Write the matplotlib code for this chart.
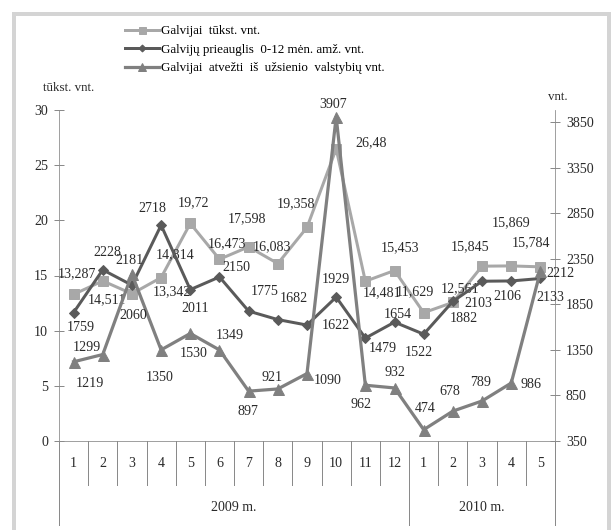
import matplotlib
matplotlib.use("Agg")
import matplotlib.pyplot as plt
import matplotlib.patches as patches
import matplotlib.transforms as mtransforms

plt.rcParams['font.family'] = ['Liberation Serif', 'DejaVu Serif']

# data
months = ['1', '2', '3', '4', '5', '6', '7', '8', '9', '10', '11', '12',
          '1', '2', '3', '4', '5']
years = ['2009 m.', '2010 m.']
galvijai = [13.287, 14.511, 13.342, 14.814, 19.72, 16.473, 17.598, 16.083, 19.358,
            26.48, 14.481, 15.453, 11.629, 12.561, 15.845, 15.869, 15.784]
prieauglis = [1759, 2228, 2060, 2718, 2011, 2150, 1775, 1682, 1622,
              1929, 1479, 1654, 1522, 1882, 2103, 2106, 2133]
atvezti = [1219, 1299, 2181, 1350, 1530, 1349, 897, 921, 1090,
           3907, 962, 932, 474, 678, 789, 986, 2212]
names = ['Galvijai  tūkst. vnt.',
         'Galvijų prieauglis  0-12 mėn. amž. vnt.',
         'Galvijai  atvežti  iš  užsienio  valstybių vnt.']

# label offsets in pixels (right, down)
off_sq = [(3, -21), (4, 19), (40, -2), (14, -23), (3, -21), (7, -16), (-2, -28),
          (-6, -17), (-11, -24), (35, -6), (17, 11), (5, -23), (-9, -21), (7, -14),
          (-12, -19), (0, -43), (-9, -24)]
off_di = [(7, 15), (5, -17), (1, 30), (-9, -17), (5, 19), (17, -9), (16, -20),
          (16, -21), (29, 0), (0, -18), (17, 10), (3, -8), (-5, 18), (11, 17),
          (-4, 22), (-4, 16), (10, 19)]
off_tr = [(16, 22), (-16, -7), (-2, -14), (-1, 28), (3, 20), (10, -14), (-1, 20),
          (-6, -11), (21, 7), (-3, -12), (-4, 19), (0, -15), (1, -21), (-3, -20),
          (-1, -18), (20, 1), (20, 2)]

W, H = 613, 530
fig = plt.figure(figsize=(W / 72, H / 72), dpi=72)
ax = fig.add_axes([59 / W, 89 / H, (555 - 59) / W, (441 - 110) / H])
ax2 = ax.twinx()

c_sq, c_di, c_tr = '#a8a8a8', '#5a5a5a', '#808080'
txt = '#2a2a2a'
axc = '#8a8a8a'
x = list(range(len(months)))

l1, = ax.plot(x, galvijai, color=c_sq, lw=3, marker='s', ms=10, zorder=3)
l2, = ax2.plot(x, prieauglis, color=c_di, lw=3, marker='D', ms=7, zorder=3)
l3, = ax2.plot(x, atvezti, color=c_tr, lw=3.2, marker='^', ms=11, zorder=4)

ax.set_xlim(-0.5, len(months) - 0.5)
ax.set_ylim(0, 30)
ax2.set_ylim(350, 350 + 331 / 319 * 3500)
ax.set_yticks(range(0, 31, 5))
ax2.set_yticks(range(350, 3851, 500))

for a in (ax, ax2):
    for s in a.spines.values():
        s.set_visible(False)
    a.tick_params(axis='y', direction='inout', length=10, width=1, color=axc,
                  labelsize=14, labelcolor=txt, pad=6)
ax.spines['left'].set_visible(True)
ax.spines['left'].set_color(axc)
ax2.spines['right'].set_visible(True)
ax2.spines['right'].set_color(axc)
ax.spines['bottom'].set_visible(True)
ax.spines['bottom'].set_color(axc)

ax.set_xticks(x, months)
ax.tick_params(axis='x', length=0, pad=16, labelsize=14, labelcolor=txt)

# category separators below axis
tr = mtransforms.blended_transform_factory(ax.transData, ax.transAxes)
for i in range(len(months) + 1):
    bottom = -0.254 if i in (0, 12, 17) else -0.133
    ax.plot([i - 0.5, i - 0.5], [0, bottom], color=axc, lw=1, transform=tr, clip_on=False)
ax.text(5.5, -0.20, years[0], transform=tr, ha='center', va='center', fontsize=14, color=txt)
ax.text(14, -0.20, years[1], transform=tr, ha='center', va='center', fontsize=14, color=txt)


def labels(a, vals, offs, fmt):
    for i, v in enumerate(vals):
        dx, dy = offs[i]
        a.annotate(fmt(v), (i, v), xytext=(dx, -dy), textcoords='offset points',
                   ha='center', va='center', fontsize=14, color=txt, zorder=6)


labels(ax, galvijai, off_sq, lambda v: str(v).replace('.', ','))
labels(ax2, prieauglis, off_di, str)
labels(ax2, atvezti, off_tr, str)

fig.text(43 / W, 1 - 88 / H, 'tūkst. vnt.', ha='left', va='center', fontsize=13, color=txt)
fig.text(548 / W, 1 - 97 / H, 'vnt.', ha='left', va='center', fontsize=13, color=txt)

fig.legend([l1, l2, l3], names, loc='upper left', bbox_to_anchor=(125 / W, 1 - 25 / H),
           frameon=False, fontsize=13, handlelength=2.6, handletextpad=0.2,
           labelspacing=0.5, borderpad=0, borderaxespad=0, markerscale=0.7)

fig.patches.append(patches.Rectangle((13.5 / W, -0.02), (609 - 13.5) / W, 1.02 - 13.5 / H,
                                     transform=fig.transFigure, fill=False,
                                     edgecolor='#d4d4d4', lw=4))

fig.savefig('out.png', dpi=72)
